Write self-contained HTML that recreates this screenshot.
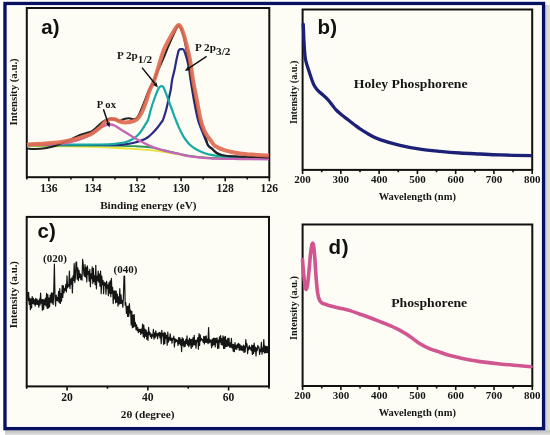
<!DOCTYPE html>
<html><head><meta charset="utf-8"><style>
html,body{margin:0;padding:0;background:#fff;}
svg{display:block;filter:blur(0.4px);}
.t{font-family:"Liberation Serif",serif;font-weight:bold;fill:#161616;}
.s{font-family:"Liberation Sans",sans-serif;font-weight:bold;fill:#111;}
</style></head><body>
<svg width="550" height="435" viewBox="0 0 550 435">
<defs><linearGradient id="sh" x1="0" y1="0" x2="1" y2="0"><stop offset="0" stop-color="#c4c6d0"/><stop offset="0.35" stop-color="#d8d8d6"/><stop offset="1" stop-color="#e2e2e0"/></linearGradient>
<linearGradient id="shb" x1="0" y1="0" x2="0" y2="1"><stop offset="0" stop-color="#c8cad6"/><stop offset="0.35" stop-color="#c8c6c4"/><stop offset="1" stop-color="#e4e4e4"/></linearGradient></defs>
<rect x="0" y="0" width="550" height="435" fill="#fff"/>
<rect x="545" y="5" width="5" height="430" fill="url(#sh)"/>
<rect x="5" y="430" width="545" height="5" fill="url(#shb)"/>
<rect x="5.05" y="3.55" width="538.4" height="425" fill="#fdfdf6" stroke="#061160" stroke-width="3.5"/>
<rect x="7.4" y="5.9" width="533.7" height="420.3" fill="none" stroke="#fafaff" stroke-width="1.2"/>
<rect x="26.80" y="8.00" width="242.50" height="169.20" fill="none" stroke="#111" stroke-width="2"/>
<path d="M48.85,177.20 V181.20 M92.94,177.20 V181.20 M137.03,177.20 V181.20 M181.12,177.20 V181.20 M225.21,177.20 V181.20 M269.30,177.20 V181.20 M26.80,177.20 V179.60 M70.89,177.20 V179.60 M114.98,177.20 V179.60 M159.07,177.20 V179.60 M203.16,177.20 V179.60 M247.25,177.20 V179.60 " stroke="#111" stroke-width="1.6" fill="none"/>
<text x="48.85" y="191.70" class="t" font-size="11.6" text-anchor="middle">136</text>
<text x="92.94" y="191.70" class="t" font-size="11.6" text-anchor="middle">134</text>
<text x="137.03" y="191.70" class="t" font-size="11.6" text-anchor="middle">132</text>
<text x="181.12" y="191.70" class="t" font-size="11.6" text-anchor="middle">130</text>
<text x="225.21" y="191.70" class="t" font-size="11.6" text-anchor="middle">128</text>
<text x="269.30" y="191.70" class="t" font-size="11.6" text-anchor="middle">126</text>
<text x="148.3" y="208.8" class="t" font-size="11.2" text-anchor="middle">Binding energy (eV)</text>
<text transform="translate(17.3,91.95) rotate(-90) scale(1.056,1)" class="t" font-size="10.2" text-anchor="middle">Intensity (a.u.)</text>
<text x="41.3" y="34.2" class="s" font-size="20.5" letter-spacing="0.1">a)</text>
<path d="M27.00,146.20 C32.50,146.23 49.50,146.30 60.00,146.40 C70.50,146.50 81.67,146.60 90.00,146.80 C98.33,147.00 103.33,147.30 110.00,147.60 C116.67,147.90 123.33,148.17 130.00,148.60 C136.67,149.03 145.00,149.73 150.00,150.20 C155.00,150.67 156.67,150.93 160.00,151.40 C163.33,151.87 165.83,152.32 170.00,153.00 C174.17,153.68 180.00,154.80 185.00,155.50 C190.00,156.20 194.17,156.72 200.00,157.20 C205.83,157.68 208.50,158.07 220.00,158.40 C231.50,158.73 260.83,159.07 269.00,159.20" stroke="#e8e23a" stroke-width="1.8" fill="none"/>
<path d="M27.00,145.70 C32.50,145.70 49.50,145.70 60.00,145.70 C70.50,145.70 81.67,145.70 90.00,145.70 C98.33,145.70 105.33,145.68 110.00,145.70 C114.67,145.72 113.83,145.72 118.00,145.80 C122.17,145.88 129.67,145.93 135.00,146.20 C140.33,146.47 145.00,146.68 150.00,147.40 C155.00,148.12 160.00,149.43 165.00,150.50 C170.00,151.57 175.83,152.88 180.00,153.80 C184.17,154.72 185.00,155.30 190.00,156.00 C195.00,156.70 203.33,157.57 210.00,158.00 C216.67,158.43 220.17,158.40 230.00,158.60 C239.83,158.80 262.50,159.10 269.00,159.20" stroke="#2c9a55" stroke-width="1.8" fill="none"/>
<path d="M27.00,145.00 C39.17,145.00 85.33,145.00 100.00,145.00 C114.67,145.00 110.83,145.12 115.00,145.00 C119.17,144.88 121.67,144.72 125.00,144.30 C128.33,143.88 131.67,143.38 135.00,142.50 C138.33,141.62 142.50,140.17 145.00,139.00 C147.50,137.83 148.33,136.92 150.00,135.50 C151.67,134.08 153.67,131.92 155.00,130.50 C156.33,129.08 157.08,128.17 158.00,127.00 C158.92,125.83 159.68,124.67 160.50,123.50 C161.32,122.33 161.97,122.25 162.90,120.00 C163.83,117.75 165.18,113.33 166.10,110.00 C167.02,106.67 167.63,103.33 168.40,100.00 C169.17,96.67 170.08,93.33 170.70,90.00 C171.32,86.67 171.47,83.33 172.10,80.00 C172.73,76.67 173.78,73.33 174.50,70.00 C175.22,66.67 176.08,61.67 176.40,60.00 L178.2,52 Q179,49.3 180.5,49.2 L182.6,49.1 Q183.8,49.2 184.3,51  C184.50,51.58 184.98,52.83 185.50,54.50 C186.02,56.17 186.78,58.42 187.40,61.00 C188.02,63.58 188.67,66.83 189.20,70.00 C189.73,73.17 189.82,75.00 190.60,80.00 C191.38,85.00 192.67,93.33 193.90,100.00 C195.13,106.67 196.37,114.17 198.00,120.00 C199.63,125.83 202.03,130.80 203.70,135.00 C205.37,139.20 206.62,142.90 208.00,145.20 C209.38,147.50 210.50,147.47 212.00,148.80 C213.50,150.13 215.33,152.13 217.00,153.20 C218.67,154.27 219.83,154.68 222.00,155.20 C224.17,155.72 225.33,156.00 230.00,156.30 C234.67,156.60 243.50,156.80 250.00,157.00 C256.50,157.20 265.83,157.42 269.00,157.50" stroke="#2a2a80" stroke-width="2.2" fill="none"/>
<path d="M27.00,144.60 C35.83,144.60 67.83,144.62 80.00,144.60 C92.17,144.58 94.17,144.63 100.00,144.50 C105.83,144.37 110.83,144.17 115.00,143.80 C119.17,143.43 122.17,143.02 125.00,142.30 C127.83,141.58 129.83,140.72 132.00,139.50 C134.17,138.28 136.33,136.58 138.00,135.00 C139.67,133.42 140.83,131.67 142.00,130.00 C143.17,128.33 144.00,126.67 145.00,125.00 C146.00,123.33 147.05,122.50 148.00,120.00 C148.95,117.50 149.72,113.33 150.70,110.00 C151.68,106.67 152.72,103.33 153.90,100.00 C155.08,96.67 156.82,92.17 157.80,90.00 C158.78,87.83 159.18,87.67 159.80,87.00 C160.42,86.33 160.93,86.00 161.50,86.00 C162.07,86.00 162.67,86.33 163.20,87.00 C163.73,87.67 163.83,87.83 164.70,90.00 C165.57,92.17 167.17,96.67 168.40,100.00 C169.63,103.33 170.87,106.67 172.10,110.00 C173.33,113.33 174.73,117.25 175.80,120.00 C176.87,122.75 177.63,124.50 178.50,126.50 C179.37,128.50 180.08,130.20 181.00,132.00 C181.92,133.80 183.00,135.72 184.00,137.30 C185.00,138.88 186.00,140.25 187.00,141.50 C188.00,142.75 188.83,143.72 190.00,144.80 C191.17,145.88 192.33,146.93 194.00,148.00 C195.67,149.07 198.17,150.33 200.00,151.20 C201.83,152.07 203.33,152.62 205.00,153.20 C206.67,153.78 207.50,154.18 210.00,154.70 C212.50,155.22 216.67,155.92 220.00,156.30 C223.33,156.68 225.00,156.82 230.00,157.00 C235.00,157.18 243.50,157.30 250.00,157.40 C256.50,157.50 265.83,157.57 269.00,157.60" stroke="#17aaa2" stroke-width="2.2" fill="none"/>
<path d="M27.00,145.00 C30.83,144.93 43.67,144.88 50.00,144.60 C56.33,144.32 60.83,143.90 65.00,143.30 C69.17,142.70 71.67,141.97 75.00,141.00 C78.33,140.03 81.67,139.17 85.00,137.50 C88.33,135.83 92.50,132.62 95.00,131.00 C97.50,129.38 98.33,128.70 100.00,127.80 C101.67,126.90 103.33,126.15 105.00,125.60 C106.67,125.05 108.33,124.47 110.00,124.50 C111.67,124.53 113.33,125.05 115.00,125.80 C116.67,126.55 118.33,127.97 120.00,129.00 C121.67,130.03 122.50,130.47 125.00,132.00 C127.50,133.53 131.67,136.28 135.00,138.20 C138.33,140.12 142.50,142.22 145.00,143.50 C147.50,144.78 148.33,145.18 150.00,145.90 C151.67,146.62 152.50,146.98 155.00,147.80 C157.50,148.62 160.83,149.73 165.00,150.80 C169.17,151.87 175.83,153.27 180.00,154.20 C184.17,155.13 185.00,155.72 190.00,156.40 C195.00,157.08 201.67,157.87 210.00,158.30 C218.33,158.73 230.17,158.82 240.00,159.00 C249.83,159.18 264.17,159.33 269.00,159.40" stroke="#c565b6" stroke-width="2.3" fill="none"/>
<path d="M27.00,148.50 C28.33,148.58 32.00,149.03 35.00,149.00 C38.00,148.97 41.67,148.80 45.00,148.30 C48.33,147.80 52.17,146.88 55.00,146.00 C57.83,145.12 59.50,144.03 62.00,143.00 C64.50,141.97 67.33,141.00 70.00,139.80 C72.67,138.60 75.50,136.85 78.00,135.80 C80.50,134.75 82.67,134.30 85.00,133.50 C87.33,132.70 89.83,132.25 92.00,131.00 C94.17,129.75 96.17,127.58 98.00,126.00 C99.83,124.42 101.00,122.70 103.00,121.50 C105.00,120.30 108.00,119.13 110.00,118.80 C112.00,118.47 113.50,119.13 115.00,119.50 C116.50,119.87 117.83,120.92 119.00,121.00 C120.17,121.08 121.00,120.37 122.00,120.00 C123.00,119.63 123.83,119.08 125.00,118.80 C126.17,118.52 127.67,118.23 129.00,118.30 C130.33,118.37 131.83,119.15 133.00,119.20 C134.17,119.25 135.08,119.22 136.00,118.60 C136.92,117.98 137.67,116.93 138.50,115.50 C139.33,114.07 139.92,112.58 141.00,110.00 C142.08,107.42 143.67,103.33 145.00,100.00 C146.33,96.67 147.58,93.17 149.00,90.00 C150.42,86.83 152.03,84.17 153.50,81.00 C154.97,77.83 156.42,74.17 157.80,71.00 C159.18,67.83 160.63,64.67 161.80,62.00 C162.97,59.33 163.93,57.08 164.80,55.00 C165.67,52.92 166.25,51.33 167.00,49.50 C167.75,47.67 168.50,45.83 169.30,44.00 C170.10,42.17 170.93,40.42 171.80,38.50 C172.67,36.58 173.63,34.33 174.50,32.50 C175.37,30.67 176.32,28.67 177.00,27.50 C177.68,26.33 178.05,25.50 178.60,25.50 C179.15,25.50 179.70,26.42 180.30,27.50 C180.90,28.58 181.58,30.25 182.20,32.00 C182.82,33.75 183.03,33.67 184.00,38.00 C184.97,42.33 186.75,51.00 188.00,58.00 C189.25,65.00 190.33,73.00 191.50,80.00 C192.67,87.00 193.67,93.33 195.00,100.00 C196.33,106.67 198.17,115.00 199.50,120.00 C200.83,125.00 202.00,127.17 203.00,130.00 C204.00,132.83 204.67,134.47 205.50,137.00 C206.33,139.53 206.92,143.23 208.00,145.20 C209.08,147.17 210.50,147.47 212.00,148.80 C213.50,150.13 215.33,152.13 217.00,153.20 C218.67,154.27 219.83,154.70 222.00,155.20 C224.17,155.70 225.33,155.92 230.00,156.20 C234.67,156.48 243.50,156.70 250.00,156.90 C256.50,157.10 265.83,157.32 269.00,157.40" stroke="#222" stroke-width="2" fill="none"/>
<path d="M27.00,144.50 C30.00,144.33 39.50,143.88 45.00,143.50 C50.50,143.12 55.00,142.90 60.00,142.20 C65.00,141.50 70.83,140.30 75.00,139.30 C79.17,138.30 82.17,137.17 85.00,136.20 C87.83,135.23 89.50,134.93 92.00,133.50 C94.50,132.07 97.83,129.55 100.00,127.60 C102.17,125.65 103.33,123.22 105.00,121.80 C106.67,120.38 108.33,119.52 110.00,119.10 C111.67,118.68 113.33,118.90 115.00,119.30 C116.67,119.70 118.33,120.98 120.00,121.50 C121.67,122.02 123.33,122.32 125.00,122.40 C126.67,122.48 128.50,122.27 130.00,122.00 C131.50,121.73 132.83,121.27 134.00,120.80 C135.17,120.33 136.05,120.00 137.00,119.20 C137.95,118.40 138.72,117.53 139.70,116.00 C140.68,114.47 141.75,112.67 142.90,110.00 C144.05,107.33 145.45,103.33 146.60,100.00 C147.75,96.67 148.57,93.17 149.80,90.00 C151.03,86.83 152.72,84.33 154.00,81.00 C155.28,77.67 156.42,73.50 157.50,70.00 C158.58,66.50 159.45,63.33 160.50,60.00 C161.55,56.67 162.47,53.25 163.80,50.00 C165.13,46.75 166.97,43.42 168.50,40.50 C170.03,37.58 171.67,34.75 173.00,32.50 C174.33,30.25 175.57,28.25 176.50,27.00 C177.43,25.75 177.93,25.08 178.60,25.00 C179.27,24.92 179.85,25.50 180.50,26.50 C181.15,27.50 181.70,28.75 182.50,31.00 C183.30,33.25 184.05,35.17 185.30,40.00 C186.55,44.83 188.72,53.33 190.00,60.00 C191.28,66.67 191.87,73.33 193.00,80.00 C194.13,86.67 195.52,93.33 196.80,100.00 C198.08,106.67 199.50,115.00 200.70,120.00 C201.90,125.00 202.95,127.42 204.00,130.00 C205.05,132.58 206.00,133.92 207.00,135.50 C208.00,137.08 208.67,137.77 210.00,139.50 C211.33,141.23 212.50,144.10 215.00,145.90 C217.50,147.70 220.83,149.05 225.00,150.30 C229.17,151.55 235.00,152.65 240.00,153.40 C245.00,154.15 250.17,154.43 255.00,154.80 C259.83,155.17 266.67,155.47 269.00,155.60" stroke="#e06a50" stroke-width="4" fill="none" opacity="0.92"/>
<text x="96.8" y="107.8" class="t" font-size="10.6">P ox</text>
<path d="M103.40,109.30 L107.98,122.67" stroke="#111" stroke-width="1.5"/>
<path d="M109.60,127.40 L105.99,123.35 L109.97,121.99 Z" fill="#111"/>
<text transform="translate(117,58.8) scale(1.12,1)" class="t" font-size="10">P 2p<tspan dy="4">1/2</tspan></text>
<path d="M142.00,67.60 L154.78,83.59" stroke="#111" stroke-width="1.5"/>
<path d="M157.90,87.50 L153.14,84.90 L156.42,82.28 Z" fill="#111"/>
<text transform="translate(195,51.2) scale(1.13,1)" class="t" font-size="10">P 2p<tspan dy="4">3/2</tspan></text>
<path d="M206.60,56.40 L188.96,68.13" stroke="#111" stroke-width="1.5"/>
<path d="M184.80,70.90 L187.80,66.38 L190.13,69.88 Z" fill="#111"/>
<rect x="302.60" y="9.50" width="229.60" height="160.40" fill="none" stroke="#111" stroke-width="2"/>
<path d="M302.60,169.90 V173.90 M340.87,169.90 V173.90 M379.13,169.90 V173.90 M417.40,169.90 V173.90 M455.67,169.90 V173.90 M493.93,169.90 V173.90 M532.20,169.90 V173.90 M321.73,169.90 V172.30 M360.00,169.90 V172.30 M398.27,169.90 V172.30 M436.53,169.90 V172.30 M474.80,169.90 V172.30 M513.07,169.90 V172.30 " stroke="#111" stroke-width="1.6" fill="none"/>
<text x="302.60" y="183.40" class="t" font-size="11.0" text-anchor="middle">200</text>
<text x="340.87" y="183.40" class="t" font-size="11.0" text-anchor="middle">300</text>
<text x="379.13" y="183.40" class="t" font-size="11.0" text-anchor="middle">400</text>
<text x="417.40" y="183.40" class="t" font-size="11.0" text-anchor="middle">500</text>
<text x="455.67" y="183.40" class="t" font-size="11.0" text-anchor="middle">600</text>
<text x="493.93" y="183.40" class="t" font-size="11.0" text-anchor="middle">700</text>
<text x="532.20" y="183.40" class="t" font-size="11.0" text-anchor="middle">800</text>
<text x="417.3" y="200.3" class="t" font-size="10.5" text-anchor="middle">Wavelength (nm)</text>
<text transform="translate(297.3,92.35) rotate(-90) scale(1.08,1)" class="t" font-size="9.4" text-anchor="middle">Intensity (a.u.)</text>
<text x="317.6" y="34.3" class="s" font-size="20.5" letter-spacing="0.1">b)</text>
<text transform="translate(353.8,87.6) scale(1.065,1)" class="t" font-size="12.9">Holey Phosphorene</text>
<path d="M303.20,24.20 C303.27,25.50 303.48,29.37 303.60,32.00 C303.72,34.63 303.75,37.00 303.90,40.00 C304.05,43.00 304.22,46.67 304.50,50.00 C304.78,53.33 304.92,56.67 305.60,60.00 C306.28,63.33 307.60,66.83 308.60,70.00 C309.60,73.17 310.67,76.42 311.60,79.00 C312.53,81.58 313.13,83.57 314.20,85.50 C315.27,87.43 316.57,89.05 318.00,90.60 C319.43,92.15 321.12,93.27 322.80,94.80 C324.48,96.33 326.53,98.10 328.10,99.80 C329.67,101.50 330.85,103.30 332.20,105.00 C333.55,106.70 334.60,108.33 336.20,110.00 C337.80,111.67 339.78,113.33 341.80,115.00 C343.82,116.67 346.15,118.33 348.30,120.00 C350.45,121.67 352.75,123.53 354.70,125.00 C356.65,126.47 357.45,127.13 360.00,128.80 C362.55,130.47 366.67,133.20 370.00,135.00 C373.33,136.80 375.00,137.87 380.00,139.60 C385.00,141.33 393.33,143.80 400.00,145.40 C406.67,147.00 413.33,148.20 420.00,149.20 C426.67,150.20 433.33,150.77 440.00,151.40 C446.67,152.03 453.33,152.57 460.00,153.00 C466.67,153.43 473.33,153.68 480.00,154.00 C486.67,154.32 491.50,154.62 500.00,154.90 C508.50,155.18 525.83,155.57 531.00,155.70" stroke="#1c2076" stroke-width="3.3" fill="none" stroke-linecap="round"/>
<rect x="26.70" y="216.90" width="242.30" height="169.50" fill="none" stroke="#111" stroke-width="2"/>
<path d="M67.08,386.40 V390.40 M147.85,386.40 V390.40 M228.62,386.40 V390.40 M26.70,386.40 V388.80 M107.47,386.40 V388.80 M188.23,386.40 V388.80 M269.00,386.40 V388.80 " stroke="#111" stroke-width="1.6" fill="none"/>
<text x="67.08" y="400.50" class="t" font-size="11.6" text-anchor="middle">20</text>
<text x="147.85" y="400.50" class="t" font-size="11.6" text-anchor="middle">40</text>
<text x="228.62" y="400.50" class="t" font-size="11.6" text-anchor="middle">60</text>
<text x="147.6" y="418" class="t" font-size="11.3" text-anchor="middle">2θ (degree)</text>
<text transform="translate(16.8,294.65) rotate(-90) scale(1.053,1)" class="t" font-size="10.2" text-anchor="middle">Intensity (a.u.)</text>
<text x="37.6" y="237.6" class="s" font-size="20.5" letter-spacing="0.1">c)</text>
<text x="54.9" y="261.8" class="t" font-size="11" text-anchor="middle">(020)</text>
<text x="125.4" y="273.3" class="t" font-size="11" text-anchor="middle">(040)</text>
<path d="M26.80,294.91 L27.40,292.47 L28.00,300.38 L28.60,292.25 L29.20,304.30 L29.80,298.30 L30.40,309.69 L31.00,298.77 L31.60,307.97 L32.20,296.55 L32.80,303.47 L33.40,298.27 L34.00,304.07 L34.60,299.79 L35.20,306.05 L35.80,298.24 L36.40,304.31 L37.00,299.22 L37.60,304.32 L38.20,300.73 L38.80,307.11 L39.40,299.21 L40.00,304.86 L40.60,293.13 L41.20,303.11 L41.80,299.71 L42.40,310.11 L43.00,299.46 L43.60,309.33 L44.20,299.79 L44.80,304.62 L45.40,298.05 L46.00,305.93 L46.60,293.45 L47.20,308.41 L47.80,294.56 L48.40,307.85 L49.00,297.99 L49.60,306.91 L50.20,295.10 L50.80,302.22 L51.40,292.85 L52.00,303.06 L52.60,293.04 L53.20,304.51 L53.80,289.26 L54.40,264.00 L55.00,298.01 L55.60,306.03 L56.20,295.00 L56.80,300.47 L57.40,297.47 L58.00,301.04 L58.60,291.45 L59.20,302.76 L59.80,288.49 L60.40,303.48 L61.00,293.58 L61.60,301.04 L62.20,285.39 L62.80,297.43 L63.40,285.91 L64.00,292.98 L64.60,288.71 L65.20,290.42 L65.80,284.42 L66.40,291.91 L67.00,275.81 L67.60,287.80 L68.20,284.59 L68.80,286.27 L69.40,271.00 L70.00,288.41 L70.60,279.06 L71.20,284.20 L71.80,277.95 L72.40,292.87 L73.00,275.85 L73.60,280.44 L74.20,263.59 L74.80,282.39 L75.40,277.13 L76.00,262.00 L76.60,262.00 L77.20,279.20 L77.80,267.89 L78.40,280.69 L79.00,270.29 L79.60,277.63 L80.20,273.77 L80.80,279.54 L81.40,274.90 L82.00,280.21 L82.60,259.24 L83.20,264.00 L83.80,273.54 L84.40,276.34 L85.00,264.56 L85.60,277.02 L86.20,267.33 L86.80,281.89 L87.40,265.76 L88.00,274.29 L88.60,271.56 L89.20,281.14 L89.80,269.28 L90.40,286.75 L91.00,273.84 L91.60,278.57 L92.20,266.97 L92.80,283.59 L93.40,268.35 L94.00,281.74 L94.60,275.76 L95.20,284.69 L95.80,265.33 L96.40,288.78 L97.00,276.13 L97.60,280.65 L98.20,271.00 L98.80,282.16 L99.40,274.19 L100.00,286.16 L100.60,271.07 L101.20,293.61 L101.80,275.99 L102.40,284.72 L103.00,280.23 L103.60,293.61 L104.20,281.99 L104.80,285.44 L105.40,282.80 L106.00,294.15 L106.60,281.28 L107.20,288.04 L107.80,284.87 L108.40,295.63 L109.00,282.53 L109.60,293.18 L110.20,280.87 L110.80,296.67 L111.40,278.40 L112.00,293.45 L112.60,287.42 L113.20,303.57 L113.80,290.76 L114.40,298.94 L115.00,290.83 L115.60,302.84 L116.20,291.06 L116.80,302.25 L117.40,294.20 L118.00,306.09 L118.60,296.73 L119.20,304.07 L119.80,288.69 L120.40,303.53 L121.00,294.80 L121.60,303.32 L122.20,300.27 L122.80,307.19 L123.40,297.42 L124.00,276.00 L124.60,276.00 L125.20,305.23 L125.80,302.54 L126.40,313.30 L127.00,306.36 L127.60,316.45 L128.20,306.08 L128.80,316.40 L129.40,303.70 L130.00,312.85 L130.60,310.31 L131.20,324.89 L131.80,311.39 L132.40,327.66 L133.00,315.13 L133.60,327.12 L134.20,314.59 L134.80,326.24 L135.40,322.54 L136.00,329.64 L136.60,324.79 L137.20,330.75 L137.80,327.49 L138.40,332.56 L139.00,329.33 L139.60,331.61 L140.20,329.22 L140.80,334.48 L141.40,329.13 L142.00,333.16 L142.60,323.98 L143.20,336.57 L143.80,325.12 L144.40,337.86 L145.00,329.00 L145.60,336.17 L146.20,330.01 L146.80,339.26 L147.40,332.36 L148.00,340.32 L148.60,327.41 L149.20,334.61 L149.80,332.09 L150.40,336.68 L151.00,333.85 L151.60,338.49 L152.20,334.62 L152.80,336.22 L153.40,329.43 L154.00,339.07 L154.60,332.95 L155.20,337.74 L155.80,330.86 L156.40,335.84 L157.00,333.56 L157.60,338.78 L158.20,333.01 L158.80,335.59 L159.40,332.33 L160.00,337.91 L160.60,332.81 L161.20,343.61 L161.80,330.42 L162.40,335.96 L163.00,333.52 L163.60,344.34 L164.20,332.39 L164.80,343.71 L165.40,333.14 L166.00,338.40 L166.60,335.26 L167.20,345.18 L167.80,332.17 L168.40,342.16 L169.00,337.72 L169.60,340.04 L170.20,333.75 L170.80,340.39 L171.40,338.04 L172.00,343.25 L172.60,338.44 L173.20,339.20 L173.80,336.03 L174.40,347.02 L175.00,338.49 L175.60,342.26 L176.20,339.31 L176.80,341.44 L177.40,340.39 L178.00,345.43 L178.60,337.58 L179.20,343.65 L179.80,337.51 L180.40,345.01 L181.00,339.49 L181.60,351.53 L182.20,337.61 L182.80,345.19 L183.40,338.94 L184.00,346.90 L184.60,341.28 L185.20,346.30 L185.80,339.31 L186.40,343.60 L187.00,335.97 L187.60,345.06 L188.20,340.33 L188.80,346.75 L189.40,338.19 L190.00,344.98 L190.60,339.39 L191.20,348.39 L191.80,339.40 L192.40,346.70 L193.00,337.66 L193.60,344.94 L194.20,335.38 L194.80,344.80 L195.40,340.36 L196.00,348.11 L196.60,339.99 L197.20,341.91 L197.80,337.49 L198.40,349.19 L199.00,333.67 L199.60,345.37 L200.20,334.86 L200.80,340.88 L201.40,338.37 L202.00,339.84 L202.60,339.68 L203.20,342.49 L203.80,336.39 L204.40,343.99 L205.00,336.69 L205.60,342.13 L206.20,335.86 L206.80,342.43 L207.40,339.22 L208.00,343.59 L208.60,327.59 L209.20,343.02 L209.80,339.44 L210.40,342.15 L211.00,340.25 L211.60,347.59 L212.20,339.15 L212.80,345.74 L213.40,338.18 L214.00,344.50 L214.60,338.28 L215.20,346.91 L215.80,338.30 L216.40,342.71 L217.00,337.79 L217.60,348.52 L218.20,340.09 L218.80,348.15 L219.40,336.96 L220.00,342.25 L220.60,335.56 L221.20,344.53 L221.80,338.53 L222.40,344.82 L223.00,335.91 L223.60,348.35 L224.20,337.12 L224.80,348.36 L225.40,336.32 L226.00,346.48 L226.60,340.20 L227.20,346.52 L227.80,338.24 L228.40,345.69 L229.00,338.21 L229.60,347.13 L230.20,343.14 L230.80,347.19 L231.40,338.39 L232.00,347.93 L232.60,344.60 L233.20,351.08 L233.80,344.46 L234.40,351.65 L235.00,342.63 L235.60,348.97 L236.20,345.28 L236.80,349.37 L237.40,344.00 L238.00,347.44 L238.60,343.25 L239.20,350.29 L239.80,344.45 L240.40,349.93 L241.00,345.61 L241.60,350.07 L242.20,346.65 L242.80,350.78 L243.40,344.98 L244.00,352.39 L244.60,346.22 L245.20,351.90 L245.80,339.64 L246.40,346.90 L247.00,343.72 L247.60,353.62 L248.20,347.04 L248.80,349.77 L249.40,345.54 L250.00,348.89 L250.60,347.63 L251.20,350.57 L251.80,345.01 L252.40,354.46 L253.00,345.24 L253.60,353.40 L254.20,343.22 L254.80,351.11 L255.40,347.11 L256.00,355.90 L256.60,347.75 L257.20,350.74 L257.80,345.34 L258.40,347.88 L259.00,347.24 L259.60,354.35 L260.20,349.24 L260.80,351.58 L261.40,342.32 L262.00,354.07 L262.60,348.04 L263.20,351.54 L263.80,339.50 L264.40,353.01 L265.00,345.73 L265.60,352.60 L266.20,346.30 L266.80,352.53 L267.40,346.70 L268.00,353.31" stroke="#151515" stroke-width="1.2" fill="none" stroke-linejoin="round"/>
<rect x="302.60" y="224.50" width="229.70" height="161.50" fill="none" stroke="#111" stroke-width="2"/>
<path d="M302.60,386.00 V390.00 M340.88,386.00 V390.00 M379.17,386.00 V390.00 M417.45,386.00 V390.00 M455.73,386.00 V390.00 M494.02,386.00 V390.00 M532.30,386.00 V390.00 M321.74,386.00 V388.40 M360.03,386.00 V388.40 M398.31,386.00 V388.40 M436.59,386.00 V388.40 M474.88,386.00 V388.40 M513.16,386.00 V388.40 " stroke="#111" stroke-width="1.6" fill="none"/>
<text x="302.60" y="398.70" class="t" font-size="11.0" text-anchor="middle">200</text>
<text x="340.88" y="398.70" class="t" font-size="11.0" text-anchor="middle">300</text>
<text x="379.17" y="398.70" class="t" font-size="11.0" text-anchor="middle">400</text>
<text x="417.45" y="398.70" class="t" font-size="11.0" text-anchor="middle">500</text>
<text x="455.73" y="398.70" class="t" font-size="11.0" text-anchor="middle">600</text>
<text x="494.02" y="398.70" class="t" font-size="11.0" text-anchor="middle">700</text>
<text x="532.30" y="398.70" class="t" font-size="11.0" text-anchor="middle">800</text>
<text x="417.3" y="415.5" class="t" font-size="10.5" text-anchor="middle">Wavelength (nm)</text>
<text transform="translate(296.9,308.05) rotate(-90) scale(1.052,1)" class="t" font-size="9.7" text-anchor="middle">Intensity (a.u.)</text>
<text x="328.4" y="254.3" class="s" font-size="20.5" letter-spacing="0.8">d)</text>
<text transform="translate(391.2,306.6) scale(1.065,1)" class="t" font-size="12.9">Phosphorene</text>
<path d="M302.50,259.50 C302.67,261.58 303.12,267.92 303.50,272.00 C303.88,276.08 304.38,281.08 304.80,284.00 C305.22,286.92 305.55,289.33 306.00,289.50 C306.45,289.67 307.00,288.08 307.50,285.00 C308.00,281.92 308.50,276.17 309.00,271.00 C309.50,265.83 310.00,258.47 310.50,254.00 C311.00,249.53 311.52,245.77 312.00,244.20 C312.48,242.63 312.93,242.30 313.40,244.60 C313.87,246.90 314.32,252.10 314.80,258.00 C315.28,263.90 315.80,274.00 316.30,280.00 C316.80,286.00 317.27,290.67 317.80,294.00 C318.33,297.33 318.80,298.50 319.50,300.00 C320.20,301.50 320.92,302.25 322.00,303.00 C323.08,303.75 324.17,303.90 326.00,304.50 C327.83,305.10 330.67,305.98 333.00,306.60 C335.33,307.22 337.17,307.53 340.00,308.20 C342.83,308.87 346.67,309.60 350.00,310.60 C353.33,311.60 356.67,313.02 360.00,314.20 C363.33,315.38 366.67,316.47 370.00,317.70 C373.33,318.93 376.67,320.28 380.00,321.60 C383.33,322.92 386.67,324.15 390.00,325.60 C393.33,327.05 396.67,328.50 400.00,330.30 C403.33,332.10 406.67,334.15 410.00,336.40 C413.33,338.65 416.67,341.72 420.00,343.80 C423.33,345.88 426.67,347.50 430.00,348.90 C433.33,350.30 436.67,351.08 440.00,352.20 C443.33,353.32 446.67,354.65 450.00,355.60 C453.33,356.55 456.67,357.17 460.00,357.90 C463.33,358.63 466.67,359.38 470.00,360.00 C473.33,360.62 475.00,360.93 480.00,361.60 C485.00,362.27 493.33,363.32 500.00,364.00 C506.67,364.68 514.83,365.25 520.00,365.70 C525.17,366.15 529.17,366.53 531.00,366.70" stroke="#d1558f" stroke-width="3.6" fill="none" stroke-linecap="round"/>
</svg>
</body></html>
